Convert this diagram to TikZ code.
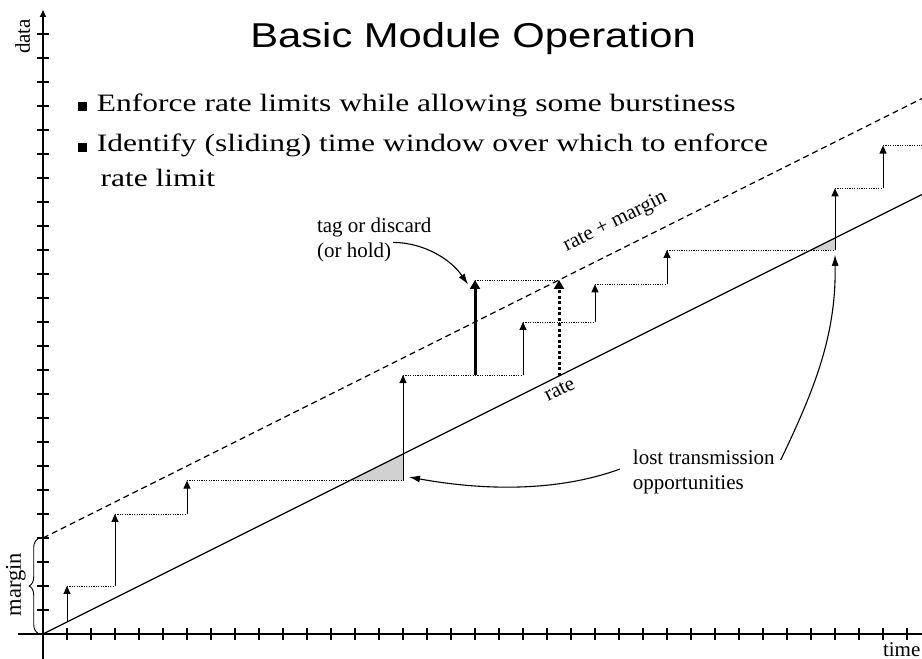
\documentclass[tikz,border=0pt]{standalone}
\usepackage{fontspec}
\setmainfont{Liberation Serif}
\newfontfamily\titlefont[FakeStretch=1.21]{Liberation Sans}
\newfontfamily\slidefont[FakeStretch=1.26]{Liberation Serif}
\usetikzlibrary{arrows.meta,decorations.pathreplacing}

\begin{document}
\begin{tikzpicture}[x=24pt,y=24pt,
  every node/.style={inner sep=0pt,outer sep=0pt},
  axisline/.style={line width=1.6pt},
  tickmark/.style={line width=1.1pt},
  rateline/.style={line width=1.3pt},
  marginline/.style={line width=1.2pt,dash pattern=on 6pt off 4pt},
  level/.style={line width=0.9pt,dash pattern=on 1.2pt off 1.2pt},
  sendarrow/.style={line width=1pt,-{Triangle[length=8pt,width=7pt]}},
  bigsend/.style={line width=3pt,-{Triangle[length=9pt,width=10pt]}},
  heldsend/.style={line width=3pt,dash pattern=on 3pt off 2.5pt,-{Triangle[length=9pt,width=10pt]}},
  lostarea/.style={fill=black!18},
  note/.style={line width=1.1pt,-{Latex[length=11pt,width=7pt]}},
  small/.style={font=\fontsize{21}{25}\selectfont},
  slide/.style={font=\slidefont\fontsize{25}{30}\selectfont},
]
\useasboundingbox (-1.7917,-1.0417) rectangle (36.625,26.4167);

% ---- title and bullet text
\node[font=\titlefont\fontsize{34.5}{38}\selectfont,anchor=base] (title) at (17.92,24.44) {Basic Module Operation};
\node[slide,anchor=base west] (b1) at (1.458,21.79) {\rule{9pt}{9pt}\hspace{10pt}Enforce rate limits while allowing some burstiness};
\node[slide,anchor=base west] (b2) at (1.458,20.10) {\rule{9pt}{9pt}\hspace{10pt}Identify (sliding) time window over which to enforce};
\node[slide,anchor=base west] (b3) at (2.40,18.625) {rate limit};

% ---- step points of the sent data
\coordinate (p1a) at (1,0.5);   \coordinate (p1b) at (1,2);
\coordinate (p2a) at (3,2);     \coordinate (p2b) at (3,5);
\coordinate (p3a) at (6,5);     \coordinate (p3b) at (6,6.39);
\coordinate (p4a) at (15,6.39); \coordinate (p4b) at (15,10.79);
\coordinate (p5a) at (18,10.79);\coordinate (p5b) at (18,14.75);
\coordinate (p6a) at (20,10.79);\coordinate (p6b) at (20,13);
\coordinate (p7a) at (23,13);   \coordinate (p7b) at (23,14.57);
\coordinate (p8a) at (26,14.57);\coordinate (p8b) at (26,16);
\coordinate (p9a) at (33,16);   \coordinate (p9b) at (33,18.57);
\coordinate (p10a) at (35,18.57);\coordinate (p10b) at (35,20.35);
\coordinate (pend) at (36.7,20.35);
\coordinate (holda) at (21.5,10.75); \coordinate (holdb) at (21.5,14.75);

% ---- lost transmission opportunities
\fill[lostarea] (12.78,6.39) -- (p4a) -- (15,7.5) -- cycle;
\fill[lostarea] (32,16) -- (p9a) -- (33,16.5) -- cycle;

% ---- levels reached
\draw[level] (p1b) -- (p2a);
\draw[level] (p2b) -- (p3a);
\draw[level] (p3b) -- (p4a);
\draw[level] (p4b) -- (p6a);
\draw[level] (p5b) -- (holdb);
\draw[level] (p6b) -- (p7a);
\draw[level] (p7b) -- (p8a);
\draw[level] (p8b) -- (p9a);
\draw[level] (p9b) -- (p10a);
\draw[level] (p10b) -- (pend);

% ---- rate and rate + margin
\coordinate (o) at (0,0);
\coordinate (rend) at (36.7,18.35);
\coordinate (m0) at (0,4);
\coordinate (mend) at (36.7,22.35);
\draw[rateline] (o) -- (rend);
\draw[marginline] (m0) -- (mend);

% ---- transmissions
\draw[sendarrow] (p1a) -- (p1b);
\draw[sendarrow] (p2a) -- (p2b);
\draw[sendarrow] (p3a) -- (p3b);
\draw[sendarrow] (p4a) -- (p4b);
\draw[sendarrow] (p6a) -- (p6b);
\draw[sendarrow] (p7a) -- (p7b);
\draw[sendarrow] (p8a) -- (p8b);
\draw[sendarrow] (p9a) -- (p9b);
\draw[sendarrow] (p10a) -- (p10b);
\draw[bigsend] (p5a) -- (p5b);
\draw[heldsend] (holda) -- (holdb);

% ---- axes
\coordinate (xa) at (-1.05,0); \coordinate (xb) at (36.7,0);
\coordinate (ya) at (0,-1.1);  \coordinate (yb) at (0,26);
\draw[axisline] (xa) -- (xb);
\draw[axisline,-{Triangle[length=7pt,width=6pt]}] (ya) -- (yb);
\foreach \k in {1,...,36} \draw[tickmark] (\k,-0.23) -- (\k,0.23);
\foreach \k in {1,...,25} \draw[tickmark] (-0.25,\k) -- (0.25,\k);
\draw[decorate,decoration={brace,amplitude=9pt},line width=0.9pt] (-0.2,0.03) -- (-0.2,3.97);

% ---- axis and line labels
\node[small,anchor=base,rotate=90] (data) at (-0.542,24.9) {data};
\node[small,anchor=base west] (time) at (35.0,-0.917) {time};
\node[font=\fontsize{22.5}{26}\selectfont,anchor=base,rotate=90] (margin) at (-0.917,2.06) {margin};
\node[small,anchor=base,rotate=26.57] (ratemargin) at (23.93,16.98) {rate + margin};
\node[small,anchor=base,rotate=26.57] (rate) at (21.63,9.96) {rate};

% ---- annotations
\node[small,anchor=base west] (tag1) at (11.42,16.71) {tag or discard};
\node[small,anchor=base west] (tag2) at (11.42,15.67) {(or hold)};
\node[small,anchor=base west] (lost1) at (24.58,7.08) {lost transmission};
\node[small,anchor=base west] (lost2) at (24.58,6.04) {opportunities};
\coordinate (tagtip) at (17.71,14.56);
\coordinate (losttipa) at (15.25,6.54);
\coordinate (losttipb) at (33,15.8);
\draw[note] ([shift={(2pt,1pt)}]tag2.north east) .. controls (15.9,16.3) and (17.0,15.6) .. (tagtip);
\draw[note] ([shift={(-13pt,-5pt)}]lost1.base west) .. controls (21.5,5.95) and (18.5,5.95) .. (losttipa);
\draw[note] ([shift={(6pt,4pt)}]lost1.base east) .. controls (32.2,10.3) and (33.05,12.5) .. (losttipb);
\end{tikzpicture}
\end{document}
